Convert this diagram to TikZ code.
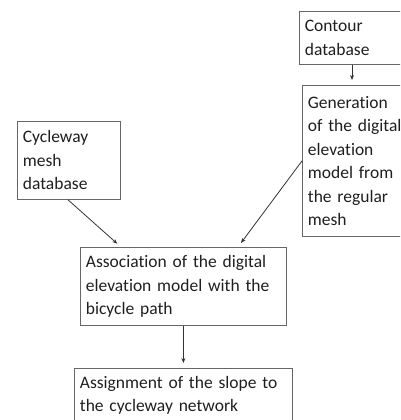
\documentclass[tikz,border=0pt]{standalone}
\usepackage{fontspec}
\setmainfont[Ligatures=NoCommon]{Carlito}
\usetikzlibrary{arrows.meta}
\begin{document}
\begin{tikzpicture}[x=1pt,y=-1pt,
  box/.style={draw=black!60, line width=0.8pt, anchor=north west, align=left,
    inner xsep=5.5pt, inner ysep=0pt, text=black!88,
    font=\fontsize{17.5}{23.5}\selectfont},
  arr/.style={draw=black!80, line width=0.8pt,
    -{Stealth[length=5pt,width=4pt]}, shorten >=5pt}]
\useasboundingbox (0,0) rectangle (400,420);
\clip (0,0) rectangle (400,420);
\node[box, text width=99pt, minimum height=53pt] (contour) at (299,11) {Contour\\database};
\node[box, text width=99pt, minimum height=151pt] (gen) at (302,85) {Generation\\of the digital\\elevation\\model from\\the regular\\mesh};
\node[box, text width=92pt, minimum height=78pt] (cyc) at (17,121) {Cycleway\\mesh\\database};
\node[box, text width=195pt, minimum height=78pt] (assoc) at (80,247) {Association of the digital\\elevation model with the\\bicycle path};
\node[box, text width=207pt, minimum height=54pt] (assign) at (74,368) {Assignment of the slope to\\the cycleway network};
\draw[arr] ([xshift=53pt]contour.south west) -- ([xshift=50pt]gen.north west);
\draw[arr] ([xshift=51pt]cyc.south west) -- ([xshift=41pt]assoc.north west);
\draw[arr] (gen.west) -- ([xshift=158pt]assoc.north west);
\draw[arr] (assoc.south) -- (assign.north);
\end{tikzpicture}
\end{document}
